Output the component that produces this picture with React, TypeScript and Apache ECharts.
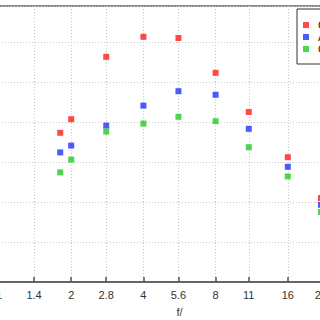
import React, { useEffect, useRef } from "react";
import * as echarts from "echarts";

const fStops = [1.8, 2, 2.8, 4, 5.6, 8, 11, 16, 22];
const tickValues = [1, 1.4, 2, 2.8, 4, 5.6, 8, 11, 16, 22, 32];
const seriesNames = ["Center", "Average", "Corner"];
const redValues = [37.3, 40.7, 56.3, 61.3, 61.0, 52.3, 42.5, 31.2, 21.0];
const blueValues = [32.4, 34.1, 39.1, 44.1, 47.7, 46.8, 38.3, 28.8, 19.3];
const greenValues = [27.4, 30.6, 37.6, 39.6, 41.3, 40.2, 33.7, 26.4, 17.5];
const colors = ["#ff1a1a", "#1a33ff", "#1ecc1e"];

export default function App() {
  const ref = useRef<HTMLDivElement>(null);
  useEffect(() => {
    if (!ref.current) return;
    const chart = echarts.init(ref.current, null, { renderer: "svg" });
    const all = [redValues, blueValues, greenValues];
    chart.setOption({
      animation: false,
      backgroundColor: "#ffffff",
      textStyle: { fontFamily: "Liberation Sans, Arial, sans-serif" },
      grid: {
        left: -1,
        right: -40,
        top: 6,
        bottom: 38,
        containLabel: false,
        outerBoundsMode: "none",
        show: true,
        borderColor: "#666666",
        borderWidth: 1.5,
        backgroundColor: "transparent",
      },
      legend: {
        orient: "vertical",
        left: 297,
        top: 9,
        data: seriesNames,
        icon: "rect",
        itemWidth: 6,
        itemHeight: 6,
        itemGap: 0,
        padding: [10, 40, 9, 6],
        backgroundColor: "#ffffff",
        borderColor: "#333333",
        borderWidth: 1,
        textStyle: { fontSize: 11, color: "#222", lineHeight: 12, padding: [0, 0, 0, 4] },
      },
      xAxis: {
        type: "log",
        logBase: Math.SQRT2,
        min: 1,
        max: 32,
        name: "f/",
        nameLocation: "middle",
        nameGap: 24,
        nameTextStyle: { fontSize: 11, color: "#333" },
        axisLine: { show: true, onZero: false, lineStyle: { color: "#555555", width: 1.5 } },
        axisTick: {
          show: true,
          inside: true,
          length: 5,
          customValues: tickValues,
          lineStyle: { color: "#555555", width: 1.5 },
        },
        axisLabel: {
          show: true,
          fontSize: 11,
          color: "#333",
          margin: 7,
          customValues: tickValues,
          formatter: (v: number) => {
            let best = tickValues[0];
            for (const t of tickValues) if (Math.abs(Math.log(t) - Math.log(v)) < Math.abs(Math.log(best) - Math.log(v))) best = t;
            return String(best);
          },
        },
        splitLine: {
          show: true,
          lineStyle: { color: "#c8c8c8", type: [1, 2], width: 1 },
        },
      },
      yAxis: {
        type: "value",
        min: 0,
        max: 69,
        interval: 10,
        axisLine: { show: false },
        axisTick: { show: false },
        axisLabel: { show: false },
        splitLine: {
          show: true,
          lineStyle: { color: "#c8c8c8", type: [1, 2], width: 1 },
        },
      },
      series: all.map((vals, i) => ({
        name: seriesNames[i],
        type: "scatter",
        symbol: "rect",
        symbolSize: 6,
        itemStyle: { color: colors[i] },
        data: fStops.map((f, j) => [f, vals[j]]),
      })),
    });
    return () => chart.dispose();
  }, []);
  return (
    <div
      ref={ref}
      style={{ position: "fixed", left: 0, top: 0, width: 320, height: 320 }}
    />
  );
}
